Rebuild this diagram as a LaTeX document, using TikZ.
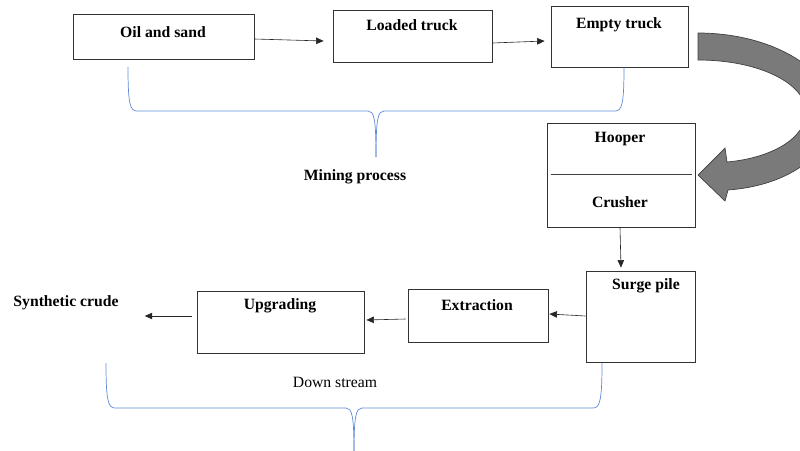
\documentclass[tikz,border=0pt]{standalone}
\usepackage{fontspec}
\setmainfont{Liberation Serif}
\usetikzlibrary{arrows.meta,calc}
\definecolor{bracecol}{RGB}{96,138,214}
\begin{document}
\begin{tikzpicture}[x=1pt,y=-1pt,
  box/.style={draw=black!80,line width=0.8pt,rectangle,inner sep=0pt},
  lbl/.style={font=\fontsize{15.7}{18}\selectfont\bfseries,inner sep=0pt},
  plain/.style={font=\fontsize{15.7}{18}\selectfont,inner sep=0pt},
  arr/.style={-{Triangle[length=7.5pt,width=6.5pt]},line width=0.6pt,draw=black!85},
  brace/.style={draw=bracecol,line width=0.7pt},
  bigarrow/.style={fill=black!52,draw=black!75,line width=0.7pt}]
\useasboundingbox (0,0) rectangle (800,450);
\clip (0,0) rectangle (800,450);
% boxes
\node[box,minimum width=181pt,minimum height=45pt] (oil) at (163.5,36.5) {};
\node[box,minimum width=159pt,minimum height=52pt] (loaded) at (412.5,36) {};
\node[box,minimum width=137pt,minimum height=61pt] (empty) at (619.5,36.5) {};
\node[box,minimum width=148pt,minimum height=104pt] (hc) at (621,175) {};
\node[box,minimum width=109pt,minimum height=91pt] (surge) at (640.5,316.5) {};
\node[box,minimum width=140pt,minimum height=53pt] (extr) at (478,315.5) {};
\node[box,minimum width=167pt,minimum height=62pt] (upg) at (280.5,322) {};
% labels
\node[lbl] (oilt) at (163,32) {Oil and sand};
\node[lbl] (loadedt) at (412,25) {Loaded truck};
\node[lbl] (emptyt) at (619,25) {Empty truck};
\node[lbl] (hoopt) at (620,139) {Hooper};
\node[lbl] (crusht) at (620,202) {Crusher};
\node[lbl] (surget) at (646,286) {Surge pile};
\node[lbl] (extrt) at (477,305) {Extraction};
\node[lbl] (upgt) at (280,306) {Upgrading};
\node[lbl] (synth) at (66,303) {Synthetic crude};
\node[lbl] (mining) at (355,177) {Mining process};
\node[plain] (down) at (335,382) {Down stream};
% divider in hooper/crusher box
\draw[draw=black!75,line width=0.8pt] ($(hc.west)+(4,-1)$) -- ($(hc.east)+(-3,-1)$);
% arrows
\draw[arr] ($(oil.east)+(0,2.5)$) -- ($(loaded.west)+(-9,5)$);
\draw[arr] ($(loaded.east)+(0,7)$) -- ($(empty.west)+(-6,4.5)$);
\draw[arr] ($(hc.south)+(-1,0)$) -- ($(surge.north)+(-19.5,-3)$);
\draw[arr] ($(surge.west)+(0,-0.5)$) -- ($(extr.east)+(1,-1.5)$);
\draw[arr] ($(extr.west)+(-2,3.5)$) -- ($(upg.east)+(2,-2)$);
\draw[arr] ($(upg.west)+(-5,-6)$) -- ($(synth.east)+(26,13)$);
% braces
\coordinate (tcusp) at (376,157);
\draw[brace] (128,67) .. controls (128,104) and (130,111) .. (137,111) -- (368,111) .. controls (374,111) and (376,118) .. (tcusp);
\draw[brace] (624,67) .. controls (624,104) and (622,111) .. (615,111) -- (384,111) .. controls (378,111) and (376,118) .. (tcusp);
\coordinate (bcusp) at (354,452);
\draw[brace] (106,363) .. controls (106,400) and (108,408) .. (115,408) -- (346,408) .. controls (352,408) and (354,416) .. (bcusp);
\draw[brace] (602,363) .. controls (602,400) and (600,408) .. (593,408) -- (362,408) .. controls (356,408) and (354,416) .. (bcusp);
% big curved arrow
\path[bigarrow] (698,33) .. controls (772,33) and (835,70) .. (832,115)
  .. controls (829,160) and (782,186) .. (728,190)
  -- (725,201) -- (698,175) -- (725,148) -- (727,162)
  .. controls (772,158) and (806,138) .. (806,112)
  .. controls (806,84) and (760,60) .. (698,60) -- cycle;
\end{tikzpicture}
\end{document}
